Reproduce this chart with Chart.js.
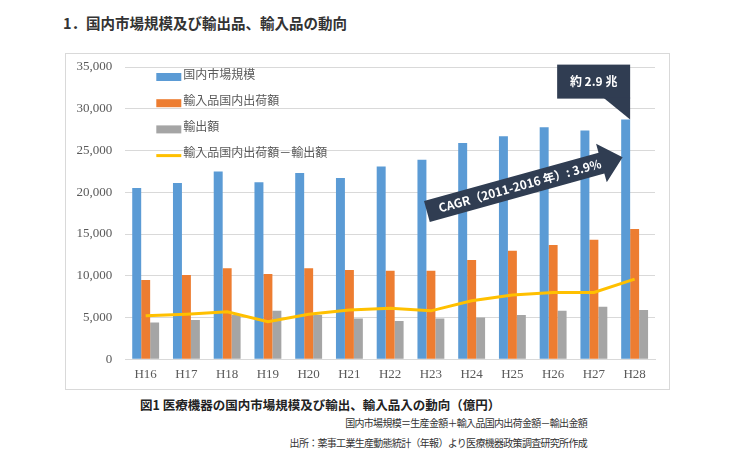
<!DOCTYPE html>
<html>
<head>
<meta charset="utf-8">
<script src="https://cdn.jsdelivr.net/npm/chart.js@4"></script>
<style>
	body { margin: 0; background: #fff; width: 732px; height: 464px; position: relative; overflow: hidden; font-family: "Noto Sans CJK JP", sans-serif; }
	.txt { position: absolute; white-space: nowrap; color: #333; }
	#titel { left: 63px; top: 12px; font-size: 14.5px; font-weight: bold; line-height: 22px; color: #333; }
	#rahmen { position: absolute; left: 65px; top: 53px; width: 605px; height: 337px; border: 1px solid #d9d9d9; box-sizing: border-box; }
	#rahmen canvas { display: block; }
	#caption { left: 140px; top: 396px; font-size: 12.5px; font-weight: bold; line-height: 18px; color: #222; }
	.note { right: 145px; font-size: 10px; letter-spacing: -0.7px; line-height: 14px; color: #333; }
</style>
</head>
<body>
<div class="txt" id="titel">1．国内市場規模及び輸出品、輸入品の動向</div>
<div id="rahmen"><canvas id="chart" width="603" height="335"></canvas></div>
<div class="txt" id="caption">図1 医療機器の国内市場規模及び輸出、輸入品入の動向（億円）</div>
<div class="txt note" style="top:416px">国内市場規模＝生産金額＋輸入品国内出荷金額－輸出金額</div>
<div class="txt note" style="top:436px">出所：薬事工業生産動態統計（年報）より医療機器政策調査研究所作成</div>
<script>
// Daten (億円)
const categories = ["H16", "H17", "H18", "H19", "H20", "H21", "H22", "H23", "H24", "H25", "H26", "H27", "H28"];
const marketSize = [20500, 21100, 22500, 21200, 22300, 21700, 23100, 23900, 25900, 26700, 27800, 27400, 28700];
const importShipments = [9500, 10100, 10900, 10200, 10900, 10700, 10600, 10600, 11900, 13000, 13700, 14300, 15600];
const exportAmount = [4400, 4700, 5300, 5800, 5300, 4900, 4600, 4900, 5000, 5300, 5800, 6300, 5900];
const importMinusExport = [5200, 5400, 5700, 4500, 5400, 5900, 6100, 5800, 7000, 7700, 8000, 8000, 9600];
const seriesNames = ["国内市場規模", "輸入品国内出荷額", "輸出額", "輸入品国内出荷額－輸出額"];
const yMin = 0, yMax = 35000, yStep = 5000;
const calloutText = "約 2.9 兆";
const cagrText = "CAGR（2011-2016 年）: 3.9%";

const colors = ["#5b9bd5", "#ed7d31", "#a5a5a5", "#ffc000"];
const annoColor = "#303d52";
const jpFont = '"Noto Sans CJK JP", sans-serif';

// Legende + Anmerkungen direkt auf das Canvas zeichnen
const overlayPlugin = {
	id: "overlay",
	afterDatasetsDraw(chart) {
		const ctx = chart.ctx;
		const area = chart.chartArea;
		const xs = chart.scales.x;
		const ys = chart.scales.y;
		ctx.save();

		// Legende oben links im Diagramm
		ctx.font = "12px " + jpFont;
		ctx.textBaseline = "middle";
		ctx.textAlign = "left";
		seriesNames.forEach((name, i) => {
			const x0 = area.left + 31;
			const yc = area.top + 10 + i * 26.2;
			if (i < 3) {
				ctx.fillStyle = colors[i];
				ctx.fillRect(x0, yc - 4, 25, 8);
			} else {
				ctx.strokeStyle = colors[i];
				ctx.lineWidth = 3;
				ctx.beginPath();
				ctx.moveTo(x0, yc);
				ctx.lineTo(x0 + 25, yc);
				ctx.stroke();
			}
			ctx.fillStyle = "#595959";
			ctx.fillText(name, x0 + 27, yc - 3);
		});

		// Sprechblase über dem letzten Balken
		const bar = chart.getDatasetMeta(0).data[marketSize.length - 1];
		const tipX = bar.x + bar.width / 2;
		const tipY = bar.y;
		const boxR = tipX, boxL = tipX - 73, boxB = tipY - 21, boxT = boxB - 34;
		ctx.fillStyle = annoColor;
		ctx.fillRect(boxL, boxT, boxR - boxL, boxB - boxT);
		ctx.beginPath();
		ctx.moveTo(boxR - 27, boxB - 1);
		ctx.lineTo(boxR, boxB - 1);
		ctx.lineTo(tipX, tipY);
		ctx.closePath();
		ctx.fill();
		ctx.fillStyle = "#fff";
		ctx.font = "bold 12px " + jpFont;
		ctx.textAlign = "center";
		ctx.fillText(calloutText, (boxL + boxR) / 2, (boxT + boxB) / 2);

		// CAGR-Pfeil
		const sx = xs.getPixelForValue(7) - 4, sy = ys.getPixelForValue(17700);
		const ex = xs.getPixelForValue(12) - 12, ey = ys.getPixelForValue(24200);
		const len = Math.hypot(ex - sx, ey - sy);
		const ang = Math.atan2(ey - sy, ex - sx);
		const head = 22, bodyHalf = 10.8, headHalf = 20;
		ctx.translate(sx, sy);
		ctx.rotate(ang);
		ctx.fillStyle = annoColor;
		ctx.beginPath();
		ctx.moveTo(0, -bodyHalf);
		ctx.lineTo(len - head, -bodyHalf);
		ctx.lineTo(len - head, -headHalf);
		ctx.lineTo(len, 0);
		ctx.lineTo(len - head, headHalf);
		ctx.lineTo(len - head, bodyHalf);
		ctx.lineTo(0, bodyHalf);
		ctx.closePath();
		ctx.fill();
		ctx.fillStyle = "#fff";
		ctx.font = "bold 12px " + jpFont;
		ctx.textAlign = "center";
		ctx.fillText(cagrText, (len - head) / 2 + 6, 0);

		ctx.restore();
	}
};

const barBase = { borderWidth: 0, barPercentage: 1, categoryPercentage: 0.66, order: 1 };

new Chart(document.getElementById("chart"), {
	type: "bar",
	data: {
		labels: categories,
		datasets: [
			{ ...barBase, label: seriesNames[0], data: marketSize, backgroundColor: colors[0] },
			{ ...barBase, label: seriesNames[1], data: importShipments, backgroundColor: colors[1] },
			{ ...barBase, label: seriesNames[2], data: exportAmount, backgroundColor: colors[2] },
			{
				type: "line",
				label: seriesNames[3],
				data: importMinusExport,
				borderColor: colors[3],
				borderWidth: 3,
				pointRadius: 0,
				tension: 0,
				fill: false,
				order: 0
			}
		]
	},
	options: {
		responsive: false,
		animation: false,
		events: [],
		layout: { padding: { left: 0, right: 14, top: 13, bottom: 0 } },
		scales: {
			x: {
				grid: { display: false, drawTicks: false },
				border: { display: true, color: "#d9d9d9" },
				ticks: { color: "#595959", padding: 7, font: { family: '"Liberation Serif", serif', size: 13 } },
				afterFit: s => { s.height = 29.7; s.paddingLeft = 0; s.paddingRight = 0; }
			},
			y: {
				min: yMin,
				max: yMax,
				grid: { color: "#d9d9d9", drawTicks: false },
				border: { display: false },
				ticks: {
					stepSize: yStep,
					padding: 13,
					color: "#595959",
					font: { family: '"Liberation Serif", serif', size: 13 },
					callback: v => v.toLocaleString("en-US")
				},
				afterFit: s => { s.width = 59.3; s.paddingTop = 0; s.paddingBottom = 0; }
			}
		},
		plugins: {
			legend: { display: false },
			tooltip: { enabled: false }
		}
	},
	plugins: [overlayPlugin]
});
</script>
</body>
</html>
